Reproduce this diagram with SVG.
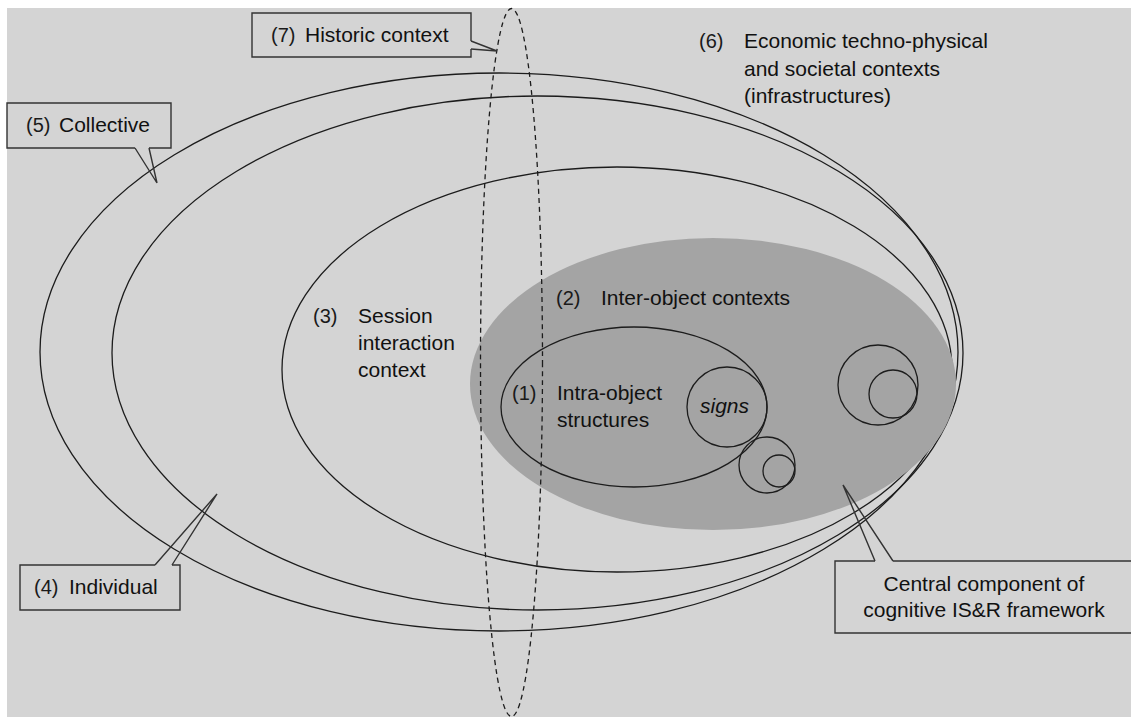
<svg xmlns="http://www.w3.org/2000/svg" width="1131" height="717" viewBox="0 0 1131 717">
<style>
.ln{fill:none;stroke:#1c1c1c;stroke-width:1.3}
.bx{fill:none;stroke:#333;stroke-width:1.4}
.bg{fill:#d4d4d4;stroke:none}
.t{font-family:"Liberation Sans",Arial,sans-serif;font-size:21px;fill:#111}
.n{font-family:"Liberation Sans",Arial,sans-serif;font-size:20px;fill:#1a1a1a}
</style>
<rect x="0" y="0" width="1131" height="717" fill="#ffffff"/>
<rect x="7" y="8" width="1124" height="709" fill="#d4d4d4"/>

<g id="collective-ellipse"><ellipse class="ln" cx="499" cy="352" rx="459" ry="279"/></g>
<g id="individual-ellipse"><ellipse class="ln" cx="537.5" cy="353" rx="425.5" ry="257" stroke-width="1.7"/></g>
<g id="session-ellipse"><ellipse class="ln" cx="617" cy="369.5" rx="335" ry="202.5"/></g>
<g id="inter-object"><ellipse cx="713" cy="384" rx="243" ry="146" fill="#a4a4a4"/></g>
<g id="intra-object"><ellipse class="ln" cx="634" cy="407" rx="133" ry="80" fill="#d4d4d4"/></g>
<g id="signs"><circle class="ln" cx="727" cy="407" r="40" fill="#d4d4d4"/>
<text class="t" x="700" y="413" font-style="italic" font-size="22">signs</text></g>
<g id="circles-a"><circle class="ln" cx="767" cy="465" r="28" fill="#d4d4d4"/><circle class="ln" cx="779" cy="471" r="16"/></g>
<g id="circles-b"><circle class="ln" cx="878" cy="385" r="40" fill="#d4d4d4"/><circle class="ln" cx="893" cy="394" r="24"/></g>
<g id="historic-ellipse"><ellipse cx="511.5" cy="362.5" rx="31" ry="354" fill="none" stroke="#1c1c1c" stroke-width="1.3" stroke-dasharray="5,4"/></g>

<g id="labels">
<text class="n" x="699" y="48">(6)</text>
<text class="t" x="744" y="48">Economic techno-physical</text>
<text class="t" x="744" y="76">and societal contexts</text>
<text class="t" x="744" y="103">(infrastructures)</text>
<text class="n" x="313" y="323">(3)</text>
<text class="t" x="358" y="323">Session</text>
<text class="t" x="358" y="350">interaction</text>
<text class="t" x="358" y="377">context</text>
<text class="n" x="556" y="305">(2)</text>
<text class="t" x="601" y="305">Inter-object contexts</text>
<text class="n" x="512" y="400">(1)</text>
<text class="t" x="557" y="400">Intra-object</text>
<text class="t" x="557" y="427">structures</text>
</g>

<g id="historic-box">
<rect class="bg" x="252" y="13" width="219" height="44"/>
<path class="bx" d="M471,49 V57 H252 V13 H471 V41"/>
<text class="n" x="271" y="42">(7)</text><text class="t" x="305" y="42">Historic context</text>
</g>
<g id="collective-box">
<rect class="bg" x="7" y="103" width="164" height="45"/>
<path class="bx" d="M135,148 H7 V103 H171 V148 H149"/>
<text class="n" x="26" y="132">(5)</text><text class="t" x="59" y="132">Collective</text>
</g>
<g id="individual-box">
<rect class="bg" x="20" y="565" width="160" height="45"/>
<path class="bx" d="M172,565 H180 V610 H20 V565 H155"/>
<text class="n" x="34" y="594">(4)</text><text class="t" x="69" y="594">Individual</text>
</g>
<g id="central-box">
<rect class="bg" x="835" y="561" width="300" height="72"/>
<path class="bx" d="M893,561 H1135 V633 H835 V561 H875"/>
<text class="t" x="984" y="591" text-anchor="middle">Central component of</text>
<text class="t" x="984" y="617" text-anchor="middle">cognitive IS&amp;R framework</text>
</g>

<g id="connectors">
<polyline class="bx" points="471,41 497,51 471,49"/>
<polyline class="bx" points="135,148 157,183 149,148"/>
<polyline class="bx" points="155,565 217,494 172,565"/>
<polyline class="bx" points="875,561 843,485 893,561"/>
</g>
</svg>
